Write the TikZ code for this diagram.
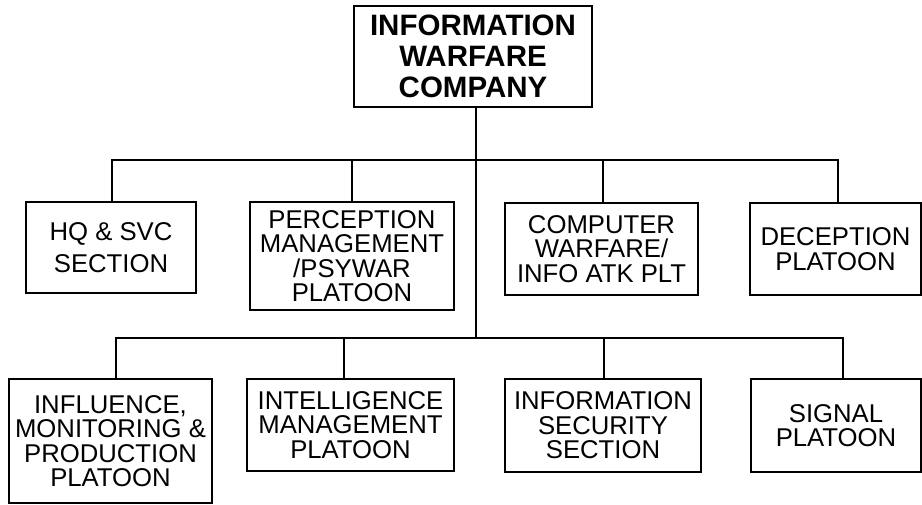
\documentclass[tikz,border=0pt]{standalone}
\usepackage{fontspec}
\setmainfont{Liberation Sans}
\begin{document}
\begin{tikzpicture}[x=1pt,y=-1pt,line width=1.1pt,
  every node/.style={draw,align=center,inner sep=0pt},
  unit/.style={font={\fontsize{25.7}{24.5}\selectfont}},
  hq/.style={font={\bfseries\fontsize{29.5}{30.7}\selectfont}}]
\useasboundingbox (0,0) rectangle (922,504);
% company
\node[hq,minimum width=238,minimum height=101] (coy) at (473,56.5)
  {INFORMATION\\WARFARE\\COMPANY};
% first row
\node[unit,minimum width=170,minimum height=91,
  font={\fontsize{25.7}{32}\selectfont}] (hqs) at (111,247.5) {HQ \& SVC\\SECTION};
\node[unit,minimum width=204,minimum height=108] (psy) at (352,256)
  {PERCEPTION\\MANAGEMENT\\/PSYWAR\\PLATOON};
\node[unit,minimum width=193,minimum height=92] (cwf) at (601.5,249)
  {COMPUTER\\WARFARE/\\INFO ATK PLT};
\node[unit,minimum width=171,minimum height=92] (dec) at (835.5,249)
  {DECEPTION\\PLATOON};
% second row
\node[unit,minimum width=203,minimum height=124] (imp) at (110.5,441)
  {INFLUENCE,\\MONITORING \&\\PRODUCTION\\PLATOON};
\node[unit,minimum width=207,minimum height=92] (int) at (350.5,425)
  {INTELLIGENCE\\MANAGEMENT\\PLATOON};
\node[unit,minimum width=196,minimum height=93] (sec) at (603,425.5)
  {INFORMATION\\SECURITY\\SECTION};
\node[unit,minimum width=170,minimum height=93] (sig) at (836,425.5)
  {SIGNAL\\PLATOON};
% trunk and branches
\coordinate (bar1) at (476,160);
\coordinate (bar2) at (476,338);
\draw ([xshift=3]coy.south) -- (bar2);
\foreach \n/\dx in {hqs/1,psy/0,cwf/1.5,dec/2.5}
  \draw ([xshift=\dx]\n.north) |- (bar1);
\foreach \n/\dx in {imp/5.5,int/-6.5,sec/1,sig/7}
  \draw ([xshift=\dx]\n.north) |- (bar2);
\end{tikzpicture}
\end{document}
